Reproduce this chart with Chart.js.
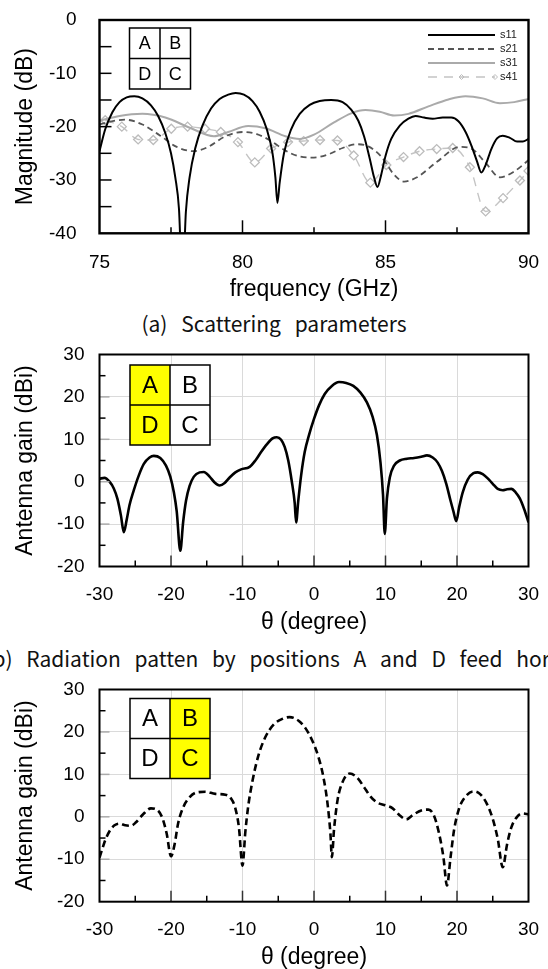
<!DOCTYPE html>
<html><head><meta charset="utf-8">
<script src="https://cdn.jsdelivr.net/npm/chart.js@4"></script>
<style>
html,body{margin:0;padding:0;background:#fff;}
body{width:548px;height:969px;overflow:hidden;position:relative;}
.box{position:absolute;left:0;width:548px;}
.cap{position:absolute;left:-150px;width:848px;text-align:center;font-family:"Noto Sans CJK KR","Noto Sans",sans-serif;font-size:21px;color:#111;white-space:nowrap;line-height:24px;}
</style></head><body>
<div class="box" style="top:0;height:305px"><canvas id="c1"></canvas></div>
<div class="cap" style="top:311px;word-spacing:9px">(a) Scattering parameters</div>
<div class="box" style="top:330px;height:310px"><canvas id="c2"></canvas></div>
<div class="cap" style="top:646px;word-spacing:9px">(b) Radiation patten by positions A and D feed horn</div>
<div class="box" style="top:666px;height:306px"><canvas id="c3"></canvas></div>
<script>
// ---------- DATA: (a) scattering parameters ----------
const freqS11 = [75.0,75.2,75.45,75.7,75.95,76.22,76.5,76.8,77.05,77.3,77.5,77.65,77.78,77.9,78.02,78.15,78.35,78.6,78.9,79.2,79.5,79.76,80.05,80.35,80.6,80.85,81.05,81.15,81.22,81.3,81.45,81.7,82.0,82.35,82.7,83.1,83.5,83.8,84.05,84.25,84.45,84.6,84.72,84.85,85.0,85.2,85.5,85.8,86.05,86.35,86.65,87.0,87.3,87.55,87.8,88.0,88.2,88.35,88.5,88.7,88.9,89.1,89.35,89.6,89.8,90.0];
const s11 = [-24.6,-20.5,-17.3,-15.4,-14.5,-14.3,-14.7,-16.0,-18.0,-21.2,-25.0,-29.5,-35.5,-50,-36,-29.5,-24.0,-19.8,-16.6,-14.8,-14.0,-13.7,-14.0,-15.2,-17.2,-20.5,-25.0,-29.5,-34.3,-30.5,-25.0,-20.5,-17.6,-15.9,-15.2,-15.0,-15.4,-16.8,-18.9,-21.8,-26.0,-29.5,-31.3,-29.0,-25.5,-22.3,-19.8,-18.5,-18.0,-18.3,-18.5,-18.3,-18.3,-19.0,-21.0,-23.5,-26.5,-28.6,-27.2,-24.2,-22.2,-21.7,-22.1,-22.8,-22.8,-22.3];
const freqS21 = [75,75.5,75.9,76.5,77.1,77.7,78.3,78.8,79.4,80.0,80.5,81.0,81.5,82.0,82.5,83.0,83.5,84.0,84.4,84.85,85.3,85.65,86.1,86.8,87.6,88.0,88.5,89.0,89.5,90];
const s21 = [-19.6,-18.9,-18.7,-19.6,-21.6,-23.8,-24.6,-23.8,-21.8,-21.0,-21.4,-22.7,-24.5,-25.6,-25.8,-25.2,-24.0,-23.3,-23.7,-25.6,-29.0,-30.3,-29.5,-26.6,-23.8,-24.1,-26.8,-29.5,-28.4,-26.3];
const freqS31 = [75,75.7,76.5,77.3,78.2,79.0,79.5,80.2,80.8,81.5,82.0,82.5,83.2,83.8,84.3,84.8,85.3,85.8,86.5,87.2,87.8,88.4,89.0,89.5,90];
const s31 = [-18.9,-18.0,-17.6,-18.3,-20.3,-21.8,-21.0,-19.9,-20.3,-21.8,-22.3,-21.5,-19.2,-17.5,-16.9,-17.2,-17.9,-17.6,-16.2,-14.9,-14.3,-14.7,-15.6,-15.4,-14.8];
const freqS41 = [75.2,75.78,76.35,76.88,77.51,78.08,78.69,79.24,79.84,80.43,81.0,81.59,82.14,82.71,83.32,83.89,84.47,85.03,85.63,86.19,86.79,87.35,87.95,88.5,89.11,89.7,90];
const s41 = [-18.8,-20.0,-22.4,-22.5,-20.4,-20.0,-20.4,-21.0,-22.9,-26.7,-24.1,-22.9,-22.7,-22.5,-22.6,-25.4,-30.5,-27.2,-25.7,-24.6,-24.2,-24.0,-27.6,-35.9,-33.4,-30.1,-28.3];
const freqTicks = [75,80,85,90];
const magTicks = [0,-10,-20,-30,-40];

// ---------- DATA: (b) A and D feed ----------
const thetaAD = [-30,-29.3,-28.6,-28.0,-27.5,-27.0,-26.6,-26.2,-25.8,-25.2,-24.5,-23.8,-23.0,-22.4,-21.5,-20.7,-20.1,-19.6,-19.2,-18.7,-18.3,-17.9,-17.4,-16.8,-16.0,-15.4,-14.6,-13.9,-13.2,-12.5,-11.8,-11.0,-10.2,-9.0,-8.2,-7.4,-6.6,-5.8,-5.2,-4.6,-4.1,-3.6,-3.1,-2.7,-2.5,-2.2,-1.8,-1.3,-0.7,0.0,0.7,1.5,2.5,3.5,4.5,5.5,6.5,7.4,8.2,8.8,9.3,9.65,9.9,10.2,10.6,11.2,12.0,13.0,14.0,15.0,15.8,16.6,17.3,17.9,18.5,19.1,19.5,19.9,20.3,20.8,21.5,22.3,22.9,23.6,24.3,25.0,25.7,26.4,27.0,27.6,28.2,28.8,29.4,30];
const gainAD = [0.7,0.9,0.0,-1.6,-4.0,-8.0,-11.9,-9.0,-5.5,-2.0,1.5,4.2,5.7,6.1,5.6,3.8,1.2,-2.5,-7.0,-16.3,-9.5,-4.5,-1.0,1.2,2.2,2.3,1.2,-0.2,-0.9,-0.3,1.0,2.2,2.9,3.5,5.0,7.0,8.8,10.2,10.5,9.9,8.2,5.0,0.0,-5.0,-9.6,-4.5,1.5,7.0,11.0,14.8,18.0,20.7,22.6,23.5,23.3,22.6,21.0,18.7,15.3,11.0,4.5,-3.0,-12.3,-4.0,1.0,3.8,5.0,5.4,5.6,5.9,6.2,5.7,4.5,2.5,-0.5,-4.5,-7.0,-9.3,-6.0,-2.5,0.5,2.0,2.2,1.8,0.8,-0.5,-1.7,-2.0,-1.8,-1.7,-2.5,-4.0,-6.5,-9.6];

// ---------- DATA: (c) B and C feed ----------
const thetaBC = [-30,-29.6,-29.2,-28.6,-27.9,-27.2,-26.4,-25.6,-24.9,-23.9,-22.8,-21.9,-21.2,-20.6,-20.0,-19.5,-19.0,-18.3,-17.6,-16.5,-15.2,-13.8,-12.4,-11.6,-11.0,-10.5,-10.0,-9.6,-9.2,-8.6,-7.8,-6.8,-5.6,-4.4,-3.4,-2.2,-1.2,-0.2,0.6,1.3,1.9,2.3,2.5,2.8,3.3,4.0,5.0,6.0,7.0,7.8,8.8,10.0,11.0,12.0,12.9,13.8,15.0,16.0,16.8,17.5,18.1,18.6,19.1,19.6,20.3,21.2,22.3,23.2,24.2,25.0,25.7,26.4,27.0,27.6,28.4,29.2,30];
const gainBC = [-9.6,-7.5,-5.5,-3.4,-2.0,-1.6,-2.0,-2.1,-1.3,0.6,2.0,1.6,-0.3,-4.0,-9.3,-6.5,-1.5,2.2,4.2,5.7,5.9,5.4,5.2,4.3,2.0,-2.5,-11.5,-3.5,2.5,8.5,14.3,18.8,21.8,23.1,23.5,22.7,20.9,17.8,14.2,9.5,3.0,-4.0,-9.5,-3.0,4.0,8.2,10.2,9.3,7.0,5.0,3.4,2.7,2.0,0.3,-0.6,0.4,1.5,1.7,0.2,-4.0,-9.5,-16.2,-9.5,-3.0,2.0,4.8,6.0,5.4,3.0,-0.5,-5.2,-11.9,-6.5,-2.5,0.0,0.8,0.6];
const thetaTicks = [-30,-20,-10,0,10,20,30];
const gainTicks = [-20,-10,0,10,20,30];

// ---------- plugins ----------
const FONT = '"Liberation Sans", Arial, sans-serif';
const deco = {
  id:'deco',
  afterDraw(chart, args, o){
    const ctx = chart.ctx, a = chart.chartArea, xs = chart.scales.x, ys = chart.scales.y;
    ctx.save();
    (o.xt||[]).forEach(([v,len,col,w])=>{
      const p = xs.getPixelForValue(v);
      ctx.strokeStyle=col; ctx.lineWidth=w; ctx.beginPath();
      ctx.moveTo(p,a.bottom); ctx.lineTo(p,a.bottom-len); ctx.stroke();
    });
    (o.yt||[]).forEach(([v,len,col,w])=>{
      const p = ys.getPixelForValue(v);
      ctx.strokeStyle=col; ctx.lineWidth=w; ctx.beginPath();
      ctx.moveTo(a.left,p); ctx.lineTo(a.left+len,p); ctx.stroke();
    });
    ctx.strokeStyle='#000'; ctx.lineWidth=o.frame||2;
    ctx.strokeRect(a.left,a.top,a.right-a.left,a.bottom-a.top);
    if (o.box){
      const b=o.box, x=a.left+b.dx, y=a.top+b.dy, c=b.size/2;
      const cells=[['A',0,0],['B',1,0],['D',0,1],['C',1,1]];
      cells.forEach(([t,i,j],k)=>{ ctx.fillStyle=b.fills[k]; ctx.fillRect(x+i*c,y+j*c,c,c); });
      ctx.strokeStyle='#000'; ctx.lineWidth=1.5;
      ctx.strokeRect(x,y,b.size,b.size);
      ctx.beginPath(); ctx.moveTo(x+c,y); ctx.lineTo(x+c,y+b.size);
      ctx.moveTo(x,y+c); ctx.lineTo(x+b.size,y+c); ctx.stroke();
      ctx.fillStyle='#000'; ctx.font=b.font+'px '+FONT; ctx.textAlign='center'; ctx.textBaseline='middle';
      cells.forEach(([t,i,j])=>ctx.fillText(t,x+i*c+c/2,y+j*c+c/2+1));
    }
    if (o.legend){
      const L=o.legend;
      chart.data.datasets.forEach((ds,i)=>{
        const y=a.top+L.dy0+i*L.dy, x1=a.right-L.x1, x2=a.right-L.x2;
        ctx.strokeStyle=ds.borderColor; ctx.lineWidth=ds.borderWidth;
        ctx.setLineDash(ds.borderDash||[]);
        ctx.beginPath(); ctx.moveTo(x1,y); ctx.lineTo(x2,y); ctx.stroke();
        ctx.setLineDash([]);
        if (ds.pointRadius>0){
          ctx.strokeStyle=ds.pointBorderColor; ctx.lineWidth=1;
          [x1+(x2-x1)*0.5, x2].forEach(px=>{
            ctx.beginPath(); ctx.moveTo(px,y-2.5); ctx.lineTo(px+2.5,y); ctx.lineTo(px,y+2.5); ctx.lineTo(px-2.5,y); ctx.closePath(); ctx.stroke();
          });
        }
        ctx.fillStyle='#222'; ctx.font='11px '+FONT; ctx.textAlign='left'; ctx.textBaseline='middle';
        ctx.fillText(ds.label, a.right-L.xt, y);
      });
    }
    ctx.restore();
  }
};

const pts = (xs, ys) => xs.map((x,i)=>({x, y: ys[i]}));
const TICKFONT = {family:FONT,size:19};
const TITLEFONT = {family:FONT,size:23};
Chart.defaults.font.family = FONT;
// fix axis size and drop the label-overhang padding so the layout padding alone sets the plot area
const fitX = h => s => { s.height = h; s.paddingTop = s.paddingBottom = s.paddingLeft = s.paddingRight = 0; };
const fitY = w => s => { s.width = w; s.paddingTop = s.paddingBottom = s.paddingLeft = s.paddingRight = 0; };

// ---------- chart (a) ----------
new Chart(document.getElementById('c1'), {
  type:'line',
  data:{datasets:[
    {label:'s11', data:pts(freqS11,s11), borderColor:'#000', borderWidth:2, pointRadius:0, cubicInterpolationMode:'monotone'},
    {label:'s21', data:pts(freqS21,s21), borderColor:'#555', borderWidth:1.8, borderDash:[6,4], pointRadius:0, cubicInterpolationMode:'monotone'},
    {label:'s31', data:pts(freqS31,s31), borderColor:'#aaa', borderWidth:2, pointRadius:0, cubicInterpolationMode:'monotone'},
    {label:'s41', data:pts(freqS41,s41), borderColor:'#c4c4c4', borderWidth:1.4, borderDash:[9,7], pointStyle:'rectRot', pointRadius:4.5, pointBorderColor:'#bcbcbc', pointBackgroundColor:'rgba(255,255,255,0)', pointBorderWidth:1.3, cubicInterpolationMode:'monotone'}
  ]},
  options:{
    responsive:true, maintainAspectRatio:false, animation:false, devicePixelRatio:1,
    layout:{padding:{top:20,right:19.5,left:0,bottom:0}},
    plugins:{legend:{display:false}, tooltip:{enabled:false},
      deco:{frame:2.4,
        xt:[[77.5,6,'#000',1.5],[80,13,'#000',1.5],[82.5,6,'#000',1.5],[85,13,'#000',1.5],[87.5,6,'#000',1.5]],
        yt:[-5,-10,-15,-20,-25,-30,-35].map(v=>[v,12,'#000',1.5]),
        box:{dx:30,dy:8,size:61,font:18,fills:['#fff','#fff','#fff','#fff']},
        legend:{dy0:15,dy:14,x1:100.5,x2:33.5,xt:28.5}}},
    scales:{
      x:{type:'linear',min:75,max:90, border:{display:false},
        afterBuildTicks:s=>{s.ticks=freqTicks.map(v=>({value:v}));},
        afterFit:fitX(71.7), grid:{display:false},
        ticks:{color:'#000',font:TICKFONT,padding:10.3,maxRotation:0,autoSkip:false},
        title:{display:true,text:'frequency (GHz)',color:'#000',font:TITLEFONT,padding:{top:0,bottom:1.2}}},
      y:{type:'linear',min:-40,max:0, border:{display:false},
        afterBuildTicks:s=>{s.ticks=magTicks.map(v=>({value:v}));},
        afterFit:fitY(99.5), grid:{display:false},
        ticks:{color:'#000',font:TICKFONT,padding:15,autoSkip:false},
        title:{display:true,text:'Magnitude (dB)',color:'#000',font:TITLEFONT,padding:{top:12.2,bottom:0}}}
    }
  },
  plugins:[deco]
});

// ---------- radiation charts ----------
const thetaMinor = [-25,-15,-5,5,15,25];
const thetaMajor = [-20,-10,0,10,20];
function radChart(id, thetas, gains, dash, fills, top, xh, xpad, titleBottom, boxDy){
  return new Chart(document.getElementById(id), {
    type:'line',
    data:{datasets:[{label:'gain', data:pts(thetas,gains), borderColor:'#000', borderWidth:2.6, borderDash:dash, pointRadius:0, cubicInterpolationMode:'monotone'}]},
    options:{
      responsive:true, maintainAspectRatio:false, animation:false, devicePixelRatio:1,
      layout:{padding:{top:top,right:19.5,left:0,bottom:0}},
      plugins:{legend:{display:false}, tooltip:{enabled:false},
        deco:{frame:2,
          xt:thetaMinor.map(v=>[v,6,'#000',1.5]).concat(thetaMajor.map(v=>[v,11,'#333',1.5])),
          yt:[25,15,5,-5,-15].map(v=>[v,6,'#000',1.5]).concat([20,10,0,-10].map(v=>[v,10,'#aaa',1.5])),
          box:{dx:30.5,dy:boxDy,size:80,font:24,fills:fills}}},
      scales:{
        x:{type:'linear',min:-30,max:30, border:{display:false},
          afterBuildTicks:s=>{s.ticks=thetaTicks.map(v=>({value:v}));},
          afterFit:fitX(xh), grid:{color:'#dadada',lineWidth:1,drawTicks:false},
          ticks:{color:'#000',font:TICKFONT,padding:xpad,maxRotation:0,autoSkip:false},
          title:{display:true,text:'\u03b8 (degree)',color:'#000',font:TITLEFONT,padding:{top:0,bottom:titleBottom}}},
        y:{type:'linear',min:-20,max:30, border:{display:false},
          afterBuildTicks:s=>{s.ticks=gainTicks.map(v=>({value:v}));},
          afterFit:fitY(99.5), grid:{color:'#dadada',lineWidth:1,drawTicks:false},
          ticks:{color:'#000',font:TICKFONT,padding:15,autoSkip:false},
          title:{display:true,text:'Antenna gain (dBi)',color:'#000',font:TITLEFONT,padding:{top:12.2,bottom:0}}}
      }
    },
    plugins:[deco]
  });
}
radChart('c2', thetaAD, gainAD, [], ['#ffff00','#fff','#ffff00','#fff'], 24.5, 73.5, 17.1, 3.2, 10.5);
radChart('c3', thetaBC, gainBC, [7,4], ['#fff','#ffff00','#fff','#ffff00'], 23.5, 70.3, 16.9, 0.2, 9);
</script>
</body></html>
